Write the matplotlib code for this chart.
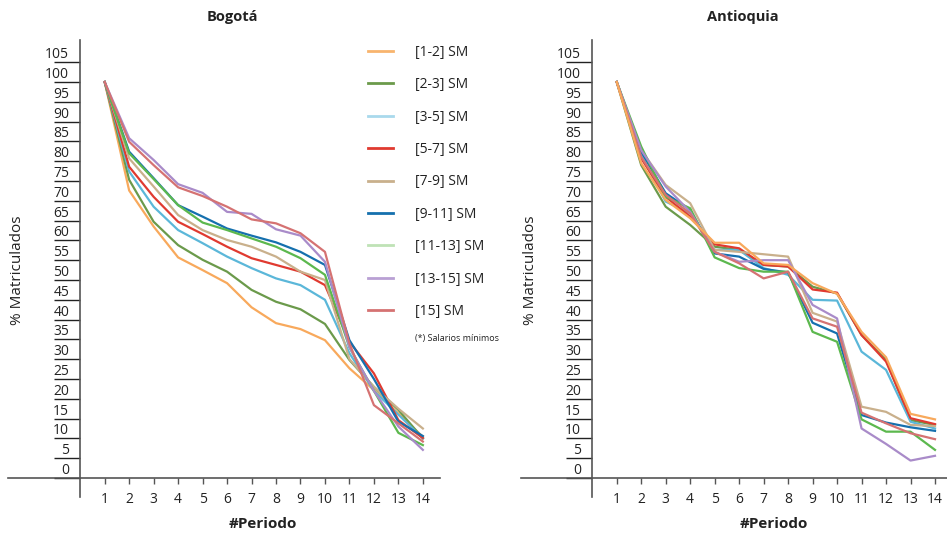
import matplotlib.pyplot as plt
from matplotlib.lines import Line2D
from matplotlib.transforms import offset_copy

plt.rcParams['font.family'] = ['Open Sans', 'DejaVu Sans']

# Periods and tick labels
periods = list(range(1, 15))
y_ticks = list(range(0, 106, 5))

labels = ["[1-2] SM", "[2-3] SM", "[3-5] SM", "[5-7] SM", "[7-9] SM",
          "[9-11] SM", "[11-13] SM", "[13-15] SM", "[15] SM"]
line_colors = ["#f8a95c", "#6b9a4b", "#5bb7d9", "#e03a30", "#c9b08c",
               "#1570ae", "#5cb84e", "#a98bc9", "#d57272"]
legend_colors = ["#f8b46e", "#6b9a4b", "#a9d9ec", "#e03a30", "#c9b08c",
                 "#1570ae", "#bfe2b6", "#b9a0d4", "#d57272"]

# Bogotá (% matriculados per period)
b_1_2 = [100, 72.6, 63.5, 55.7, 52.5, 49.2, 43.1, 39.1, 37.6, 34.8, 27.7, 22.2, 16.3, 10.4]
b_2_3 = [100, 75.3, 64.7, 58.8, 55.1, 52.1, 47.5, 44.5, 42.6, 38.9, 29.8, 23.0, 17.2, 10.0]
b_3_5 = [100, 77.4, 68.5, 62.6, 59.3, 55.9, 53.0, 50.4, 48.7, 45.0, 31.5, 22.0, 16.0, 10.0]
b_5_7 = [100, 78.6, 71.0, 64.7, 61.6, 58.4, 55.5, 53.8, 52.1, 48.7, 34.4, 26.4, 14.6, 10.1]
b_7_9 = [100, 80.7, 73.6, 66.4, 62.6, 60.1, 58.4, 55.9, 52.1, 50.0, 30.0, 23.0, 17.5, 12.5]
b_9_11 = [100, 82.4, 75.7, 68.9, 66.0, 63.0, 61.2, 59.5, 57.1, 53.8, 34.8, 25.0, 14.2, 10.6]
b_11_13 = [100, 82.0, 75.5, 68.9, 64.5, 62.6, 60.5, 58.4, 55.5, 51.3, 33.0, 22.0, 11.4, 8.3]
b_13_15 = [100, 85.8, 80.3, 74.2, 72.0, 67.2, 66.7, 62.8, 61.2, 54.6, 33.0, 22.0, 13.0, 7.1]
b_15 = [100, 84.9, 79.0, 73.4, 71.2, 68.5, 65.3, 64.3, 61.8, 57.1, 34.0, 18.4, 13.8, 9.2]

# Antioquia
a_1_2 = [100, 79.5, 70.2, 65.6, 59.4, 59.4, 54.2, 53.8, 49.2, 46.5, 36.9, 30.5, 16.2, 14.8]
a_2_3 = [100, 79.0, 68.5, 63.9, 58.4, 57.6, 53.8, 53.4, 48.3, 46.6, 36.1, 29.8, 14.6, 13.4]
a_3_5 = [100, 81.6, 69.8, 66.8, 57.6, 57.6, 53.0, 51.3, 45.0, 44.8, 31.9, 27.3, 14.2, 12.5]
a_5_7 = [100, 80.7, 71.0, 66.0, 59.0, 58.0, 53.8, 53.4, 47.6, 46.8, 36.1, 29.4, 15.1, 13.6]
a_7_9 = [100, 82.8, 74.0, 69.4, 57.6, 57.1, 56.5, 55.9, 41.7, 39.5, 18.0, 16.7, 13.4, 13.1]
a_9_11 = [100, 82.4, 71.9, 67.7, 56.7, 55.9, 52.8, 51.9, 39.2, 36.5, 15.9, 14.0, 12.8, 11.9]
a_11_13 = [100, 83.7, 71.0, 68.1, 55.7, 53.0, 52.1, 52.1, 36.9, 34.4, 14.8, 11.7, 11.7, 7.1]
a_13_15 = [100, 82.8, 73.6, 67.2, 57.1, 54.6, 55.0, 55.0, 43.7, 40.3, 12.5, 8.6, 4.4, 5.6]
a_15 = [100, 81.1, 71.5, 66.8, 57.1, 54.2, 50.4, 52.1, 40.3, 38.2, 16.5, 13.8, 11.3, 9.8]

bogota = [b_1_2, b_2_3, b_3_5, b_5_7, b_7_9, b_9_11, b_11_13, b_13_15, b_15]
antioquia = [a_1_2, a_2_3, a_3_5, a_5_7, a_7_9, a_9_11, a_11_13, a_13_15, a_15]

W, H = 947, 534
fig = plt.figure(figsize=(W / 100, H / 100), dpi=100)

axis_col = "#555555"
text_col = "#222222"


def draw_panel(ax, series, xlim, top_orange=False):
    for i, (vals, col) in enumerate(zip(series, line_colors)):
        z = 3 if (top_orange and i == 0) else 2
        ax.plot(periods, vals, color=col, lw=1.6, zorder=z)
    ax.set_xlim(*xlim)
    ax.set_ylim(-4.8, 110.6)
    for s in ["top", "right"]:
        ax.spines[s].set_visible(False)
    for s in ["left", "bottom"]:
        ax.spines[s].set_position(("data", 0))
        ax.spines[s].set_color(axis_col)
        ax.spines[s].set_linewidth(1.2)
    ax.set_xticks(periods)
    ax.tick_params(axis="x", length=4, width=1, direction="out", pad=6,
                   labelsize=10, colors=axis_col, labelcolor=text_col)
    ax.set_yticks(y_ticks)
    ax.tick_params(axis="y", length=19, width=1, direction="out",
                   labelleft=False, colors="#222222")
    tr = offset_copy(ax.transData, fig=fig, x=-11, y=0, units="dots")
    for v in y_ticks:
        ax.text(0, v, str(v), transform=tr, ha="right", va="bottom",
                fontsize=10, color=text_col)
    ax.set_facecolor("none")


ax1 = fig.add_axes([8 / W, 37 / H, 432 / W, 457 / H])
draw_panel(ax1, bogota, (-2.95, 14.7))
ax2 = fig.add_axes([521 / W, 37 / H, 426 / W, 457 / H])
draw_panel(ax2, antioquia, (-2.91, 14.49), top_orange=True)

# titles and axis labels
fig.text(232 / W, 1 - 17 / H, "Bogotá", ha="center", va="center",
         fontsize=10.5, fontweight="bold", color=text_col)
fig.text(743 / W, 1 - 17 / H, "Antioquia", ha="center", va="center",
         fontsize=10.5, fontweight="bold", color=text_col)
fig.text(263 / W, 1 - 524 / H, "#Periodo", ha="center", va="center",
         fontsize=11, fontweight="bold", color=text_col)
fig.text(774 / W, 1 - 524 / H, "#Periodo", ha="center", va="center",
         fontsize=11, fontweight="bold", color=text_col)
fig.text(18 / W, 1 - 270 / H, "% Matriculados", rotation=90, ha="center",
         va="center", fontsize=11, color=text_col)
fig.text(530 / W, 1 - 270 / H, "% Matriculados", rotation=90, ha="center",
         va="center", fontsize=11, color=text_col)

# legend
handles = [Line2D([], [], color=c, lw=2) for c in legend_colors]
fig.legend(handles, labels, loc="upper left", bbox_to_anchor=(368 / W, 1 - 45 / H),
           frameon=False, fontsize=10, handlelength=1.8, handletextpad=1.6,
           labelspacing=1.25, borderpad=0, borderaxespad=0, labelcolor=text_col)
fig.text(415 / W, 1 - 338 / H, "(*) Salarios mínimos", fontsize=6.5,
         va="center", color=text_col)

fig.savefig("out.png", dpi=100)
